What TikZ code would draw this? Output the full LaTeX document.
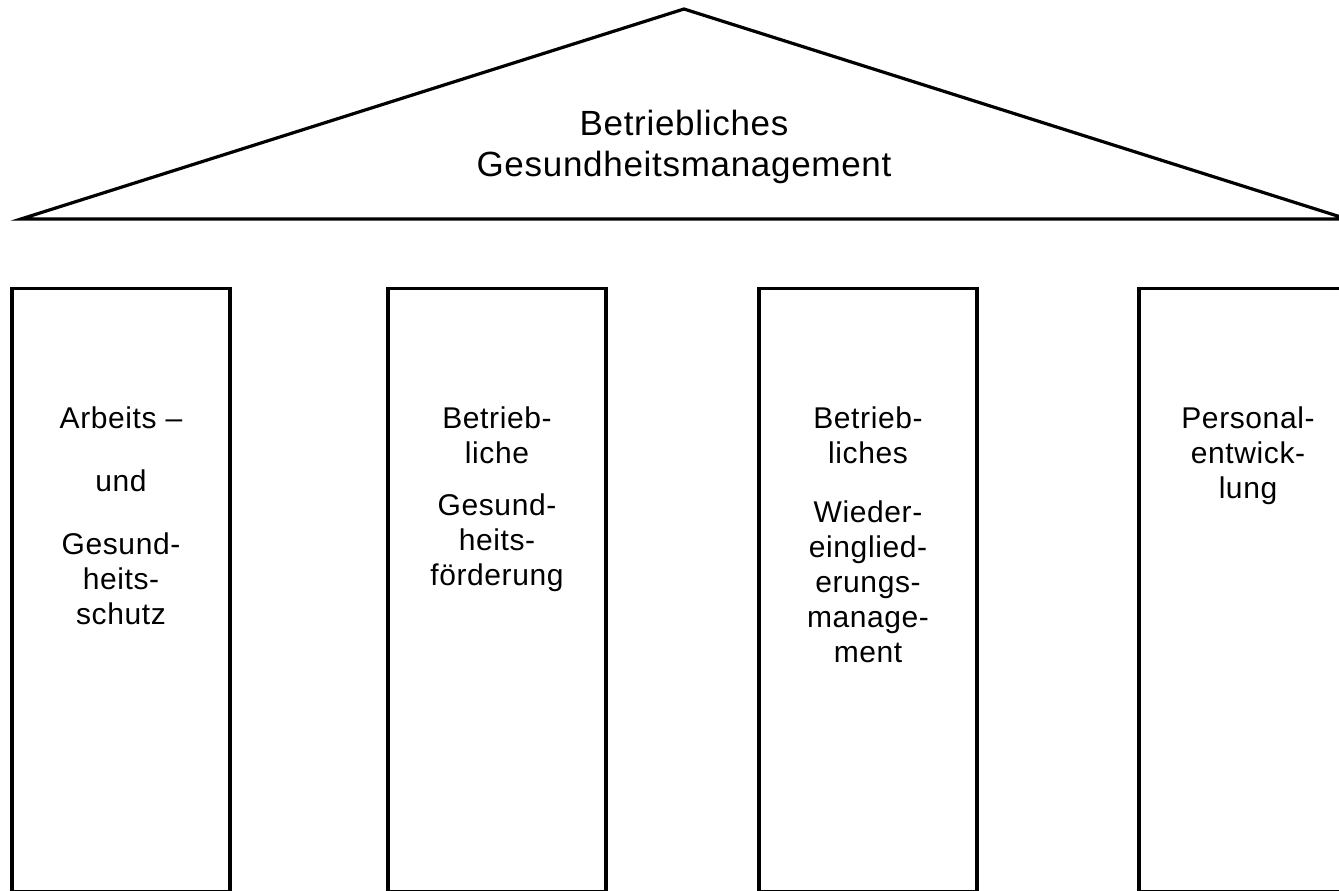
\documentclass[tikz,border=0pt]{standalone}
\usepackage{fontspec}
\setmainfont{Liberation Sans}[LetterSpace=2]
\usetikzlibrary{positioning}

\begin{document}
\begin{tikzpicture}[x=1pt,y=-1pt,line width=3.2pt,
  pillar/.style={draw,minimum width=218pt,minimum height=603pt,inner sep=0pt,anchor=north},
  pillartext/.style={align=center,inner sep=0pt,font=\fontsize{30}{35}\selectfont}]
\clip (0,0) rectangle (1339,891);

% roof
\coordinate (apex) at (684,9);
\coordinate (eaveL) at (21,219);
\coordinate (eaveR) at (1347,219);
\draw (eaveL) -- (apex) -- (eaveR) -- cycle;
\node[align=center,font=\fontsize{35}{41}\selectfont] (roof) at (684,147) {Betriebliches\\Gesundheitsmanagement};

% pillars
\node[pillar] (p1) at (121,287) {};
\node[pillar] (p2) at (497,287) {};
\node[pillar] (p3) at (868,287) {};
\node[pillar] (p4) at (1248,287) {};

\node[pillartext, below=118pt of p1.north] (t1) {Arbeits –\\[28pt]und\\[28pt]Gesund-\\heits-\\schutz};
\node[pillartext, below=118pt of p2.north] (t2) {Betrieb-\\liche\\[17pt]Gesund-\\heits-\\förderung};
\node[pillartext, below=118pt of p3.north] (t3) {Betrieb-\\liches\\[24pt]Wieder-\\einglied-\\erungs-\\manage-\\ment};
\node[pillartext, below=118pt of p4.north] (t4) {Personal-\\entwick-\\lung};
\end{tikzpicture}
\end{document}
